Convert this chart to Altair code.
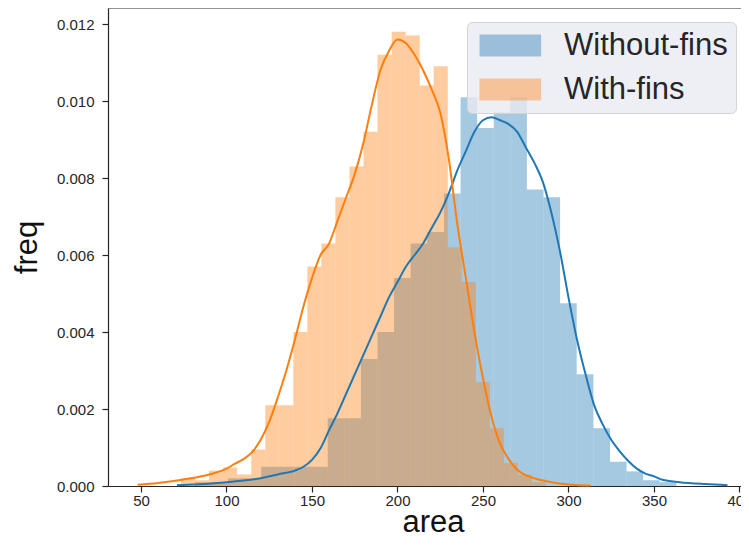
import altair as alt
import pandas as pd

# ---------------- data ----------------
series = ["Without-fins", "With-fins"]
colors = ["#1f77b4", "#ff7f0e"]
x_ticks = [50, 100, 150, 200, 250, 300, 350, 400]
y_ticks = [0.0, 0.002, 0.004, 0.006, 0.008, 0.010, 0.012]

# histogram bin edges / densities (Without-fins)
blue_edges = [81.5, 91.2, 100.9, 110.6, 120.3, 130.0, 139.7, 149.5, 159.2, 168.9,
              178.6, 188.3, 198.0, 207.7, 217.4, 227.2, 236.9, 246.6, 256.3, 266.0,
              275.7, 285.4, 295.1, 304.8, 314.6, 324.3, 334.0, 343.7, 353.4, 363.1]
blue_heights = [0.0001, 0.0001, 0.0002, 0.0002, 0.0005, 0.0005, 0.0005, 0.0005, 0.00176, 0.00176,
                0.0033, 0.0040, 0.0054, 0.0063, 0.0066, 0.0076, 0.0101, 0.0093, 0.0097, 0.0101,
                0.0077, 0.0075, 0.00475, 0.0029, 0.0015, 0.00063, 0.00038, 0.00015, 0.0001]

# histogram bin edges / densities (With-fins)
orange_edges = [73.4, 81.6, 89.8, 98.0, 106.2, 114.5, 122.7, 130.9, 139.1, 147.3,
                155.5, 163.7, 171.9, 180.1, 188.3, 196.6, 204.8, 213.0, 221.2, 229.4,
                237.6, 245.8, 254.0, 262.2, 270.4, 278.7, 286.9]
orange_heights = [0.0002, 0.00015, 0.0004, 0.00048, 0.0003, 0.00095, 0.0021, 0.0021, 0.0040, 0.0057,
                  0.0063, 0.0075, 0.0083, 0.0092, 0.0112, 0.0118, 0.0117, 0.0104, 0.0109, 0.0062,
                  0.0053, 0.0027, 0.0015, 0.0006, 0.0003, 0.0001]

# KDE curves
blue_kde_x = [71, 80, 90, 100, 110, 120, 130, 140, 145, 150, 155, 160, 165, 170, 175, 180,
              185, 190, 195, 200, 205, 210, 215, 220, 225, 230, 235, 240, 245, 250, 255, 260,
              265, 270, 275, 280, 285, 290, 295, 300, 305, 310, 315, 320, 325, 330, 335, 340,
              345, 350, 355, 365, 380, 393]
blue_kde_y = [0.00002, 0.00004, 0.00006, 0.0001, 0.00014, 0.0002, 0.0003, 0.0004, 0.0005, 0.00068,
              0.00098, 0.00145, 0.0019, 0.0024, 0.0029, 0.0034, 0.0039, 0.0044, 0.0049, 0.0053,
              0.0057, 0.0060, 0.0063, 0.0067, 0.0071, 0.0076, 0.0082, 0.0087, 0.0092, 0.0095,
              0.00958, 0.0095, 0.0094, 0.0092, 0.0088, 0.0084, 0.0079, 0.0071, 0.0061, 0.0049,
              0.0038, 0.0029, 0.0021, 0.0016, 0.0012, 0.0009, 0.00065, 0.00045, 0.00032, 0.00025,
              0.00016, 0.0001, 0.00005, 0.00002]
orange_kde_x = [48, 60, 75, 90, 100, 105, 110, 115, 120, 125, 130, 135, 140, 145, 150, 155,
                160, 165, 170, 175, 180, 185, 190, 195, 200, 205, 210, 215, 220, 225, 230, 235,
                240, 245, 250, 255, 260, 265, 270, 275, 280, 290, 300, 313]
orange_kde_y = [0.00003, 0.00008, 0.00017, 0.0003, 0.00045, 0.00058, 0.0007, 0.00088, 0.0012, 0.00167,
                0.0023, 0.003, 0.0038, 0.00466, 0.0054, 0.006, 0.0063, 0.0069, 0.0075, 0.0081,
                0.0089, 0.0099, 0.0108, 0.0113, 0.0116, 0.0115, 0.0112, 0.0108, 0.0103, 0.0097,
                0.0085, 0.0068, 0.0054, 0.0040, 0.0028, 0.0018, 0.0011, 0.0007, 0.00042, 0.00028,
                0.0002, 0.0001, 0.00004, 0.00001]


def hist_df(edges, heights, name):
    return pd.DataFrame({"x0": edges[:-1], "x1": edges[1:], "h": heights,
                         "base": [0.0] * len(heights), "series": name})


blue_hist_df = hist_df(blue_edges, blue_heights, series[0])
orange_hist_df = hist_df(orange_edges, orange_heights, series[1])
blue_kde_df = pd.DataFrame({"x": blue_kde_x, "y": blue_kde_y})
orange_kde_df = pd.DataFrame({"x": orange_kde_x, "y": orange_kde_y})

FONT = "Liberation Sans"
W, H = 633, 478

xscale = alt.Scale(domain=[30.7, 400.9], nice=False, zero=False)
yscale = alt.Scale(domain=[0, 0.012416], nice=False, zero=False)
cscale = alt.Scale(domain=series, range=colors)

x_axis = alt.Axis(values=x_ticks, format="d", title="area", titleFontSize=31,
                  titleFont=FONT, titleFontWeight="normal", titleColor="#111111",
                  titleX=325, titleY=45, titleBaseline="alphabetic", titleAlign="center",
                  labelPadding=1)
y_axis = alt.Axis(values=y_ticks, format=".3f", title="freq", titleFontSize=31,
                  titleFont=FONT, titleFontWeight="normal", titleColor="#111111",
                  titleX=-72, titleBaseline="alphabetic", labelPadding=8)

legend = alt.Legend(title=None, orient="none", legendX=359, legendY=14, direction="vertical",
                    labelFont=FONT, labelFontSize=31, labelColor="#262626", labelLimit=400,
                    symbolType="M-1,-1H4.6V1H-1Z", symbolSize=484, symbolOpacity=0.4,
                    symbolStrokeWidth=0, labelOffset=58, padding=8, rowPadding=12,
                    fillColor="rgba(234,234,242,0.8)", strokeColor="#d4d4d8", cornerRadius=5)


def hist_layer(df):
    return alt.Chart(df).mark_rect(opacity=0.4, strokeWidth=0).encode(
        x=alt.X("x0:Q", scale=xscale, axis=x_axis),
        x2="x1:Q",
        y=alt.Y("h:Q", scale=yscale, axis=y_axis),
        y2="base:Q",
        color=alt.Color("series:N", scale=cscale, legend=legend),
    )


def kde_layer(df, col):
    return alt.Chart(df).mark_line(color=col, strokeWidth=2, interpolate="monotone").encode(
        x=alt.X("x:Q", scale=xscale, axis=x_axis),
        y=alt.Y("y:Q", scale=yscale, axis=y_axis),
    )


frame_top = alt.Chart(pd.DataFrame({"a": [0]})).mark_rule(
    color="#262626", strokeWidth=1.2).encode(
    x=alt.value(0), x2=alt.value(W), y=alt.value(0))

chart = alt.layer(
    hist_layer(blue_hist_df),
    hist_layer(orange_hist_df),
    kde_layer(blue_kde_df, colors[0]),
    kde_layer(orange_kde_df, colors[1]),
    frame_top,
).properties(
    width=W, height=H,
    padding={"left": 100, "top": 0, "right": 0, "bottom": 48},
    autosize=alt.AutoSizeParams(type="none"),
    background="white",
).configure_view(stroke=None).configure_axis(
    grid=False, labelFont=FONT, labelFontSize=15, labelColor="#262626",
    tickColor="#262626", tickSize=6, tickWidth=1.2,
    domainColor="#262626", domainWidth=1.2,
)

chart.save("out.html", embed_options={"renderer": "svg", "actions": False})
